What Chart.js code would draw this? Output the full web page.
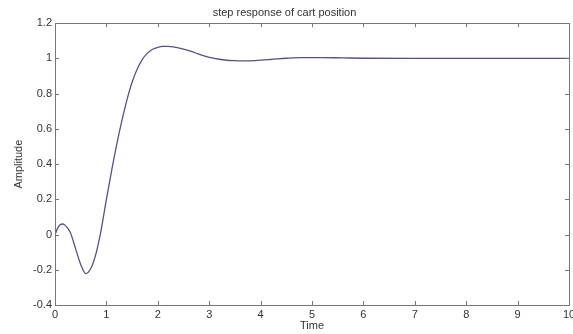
<!DOCTYPE html>
<html>
<head>
<meta charset="utf-8">
<script src="https://cdn.jsdelivr.net/npm/chart.js@4/dist/chart.umd.min.js"></script>
<style>
  html, body { margin: 0; padding: 0; background: #fff; }
  #wrap { width: 573px; height: 334px; }
</style>
</head>
<body>
<div id="wrap"><canvas id="c" width="573" height="334"></canvas></div>
<script>
const chartTitle = 'step response of cart position';
const xTitle = 'Time';
const yTitle = 'Amplitude';
const times = [0, 0.05, 0.1, 0.15, 0.2, 0.3, 0.4, 0.5, 0.6, 0.7, 0.8, 0.9, 1.0, 1.1, 1.2, 1.3, 1.4, 1.5, 1.6, 1.7, 1.8, 1.9, 2.0, 2.1, 2.2, 2.3, 2.5, 2.7, 2.9, 3.1, 3.3, 3.5, 3.7, 3.9, 4.2, 4.5, 4.8, 5.2, 5.6, 6.0, 7, 8, 9, 10];
const amplitude = [0, 0.035, 0.055, 0.06, 0.052, 0.01, -0.08, -0.17, -0.222, -0.19, -0.105, 0.03, 0.2, 0.36, 0.51, 0.645, 0.765, 0.865, 0.94, 0.995, 1.03, 1.052, 1.063, 1.068, 1.068, 1.065, 1.053, 1.035, 1.015, 1.0, 0.991, 0.987, 0.986, 0.988, 0.994, 1.001, 1.004, 1.005, 1.003, 1.001, 1.0, 1.0, 1.0, 1.0];
const xTicks = [0, 1, 2, 3, 4, 5, 6, 7, 8, 9, 10];
const yTicks = [-0.4, -0.2, 0, 0.2, 0.4, 0.6, 0.8, 1, 1.2];

const FONT = "'Liberation Sans', Arial, sans-serif";
const TXT = '#333';
const AX = '#777';

const innerTicks = {
  id: 'innerTicks',
  afterDatasetsDraw(chart) {
    const { ctx, chartArea: a, scales: { x, y } } = chart;
    ctx.save();
    ctx.strokeStyle = AX;
    ctx.lineWidth = 1;
    ctx.beginPath();
    const L = 4;
    xTicks.forEach(v => {
      const px = Math.round(x.getPixelForValue(v)) + 0.5;
      ctx.moveTo(px, a.bottom); ctx.lineTo(px, a.bottom - L);
      ctx.moveTo(px, a.top); ctx.lineTo(px, a.top + L);
    });
    yTicks.forEach(v => {
      const py = Math.round(y.getPixelForValue(v)) + 0.5;
      ctx.moveTo(a.left, py); ctx.lineTo(a.left + L, py);
      ctx.moveTo(a.right, py); ctx.lineTo(a.right - L, py);
    });
    ctx.stroke();
    ctx.strokeRect(Math.round(a.left) + 0.5, Math.round(a.top) + 0.5,
                   Math.round(a.right - a.left), Math.round(a.bottom - a.top));
    ctx.restore();
  }
};

new Chart(document.getElementById('c'), {
  type: 'line',
  data: {
    datasets: [{
      data: times.map((t, i) => ({ x: t, y: amplitude[i] })),
      borderColor: '#52528e',
      borderWidth: 1.3,
      pointRadius: 0,
      fill: false,
      cubicInterpolationMode: 'monotone'
    }]
  },
  options: {
    responsive: false,
    devicePixelRatio: 1,
    animation: false,
    layout: { padding: { left: 0, right: 4, top: 0, bottom: 0 } },
    plugins: {
      legend: { display: false },
      tooltip: { enabled: false },
      title: {
        display: true, text: chartTitle, color: TXT,
        font: { family: FONT, size: 11, weight: 'normal' },
        padding: { top: 6, bottom: 4 }
      }
    },
    scales: {
      x: {
        type: 'linear', min: 0, max: 10,
        afterBuildTicks: s => { s.ticks = xTicks.map(v => ({ value: v })); },
        ticks: { color: TXT, font: { family: FONT, size: 11 }, padding: 3, maxRotation: 0 },
        grid: { display: false, drawTicks: false, tickLength: 0 },
        border: { display: false },
        title: { display: true, text: xTitle, color: TXT, font: { family: FONT, size: 11 }, padding: { top: 0, bottom: 1 } },
        afterFit: s => { s.height = 29; s.paddingLeft = 0; s.paddingRight = 0; }
      },
      y: {
        type: 'linear', min: -0.4, max: 1.2,
        afterBuildTicks: s => { s.ticks = yTicks.map(v => ({ value: v })); },
        ticks: { color: TXT, font: { family: FONT, size: 11 }, padding: 3,
                 callback: v => String(Math.round(v * 10) / 10) },
        grid: { display: false, drawTicks: false, tickLength: 0 },
        border: { display: false },
        title: { display: true, text: yTitle, color: TXT, font: { family: FONT, size: 11 }, padding: { top: 12, bottom: 0 } },
        afterFit: s => { s.width = 55; s.paddingTop = 0; s.paddingBottom = 0; }
      }
    }
  },
  plugins: [innerTicks]
});
</script>
</body>
</html>
